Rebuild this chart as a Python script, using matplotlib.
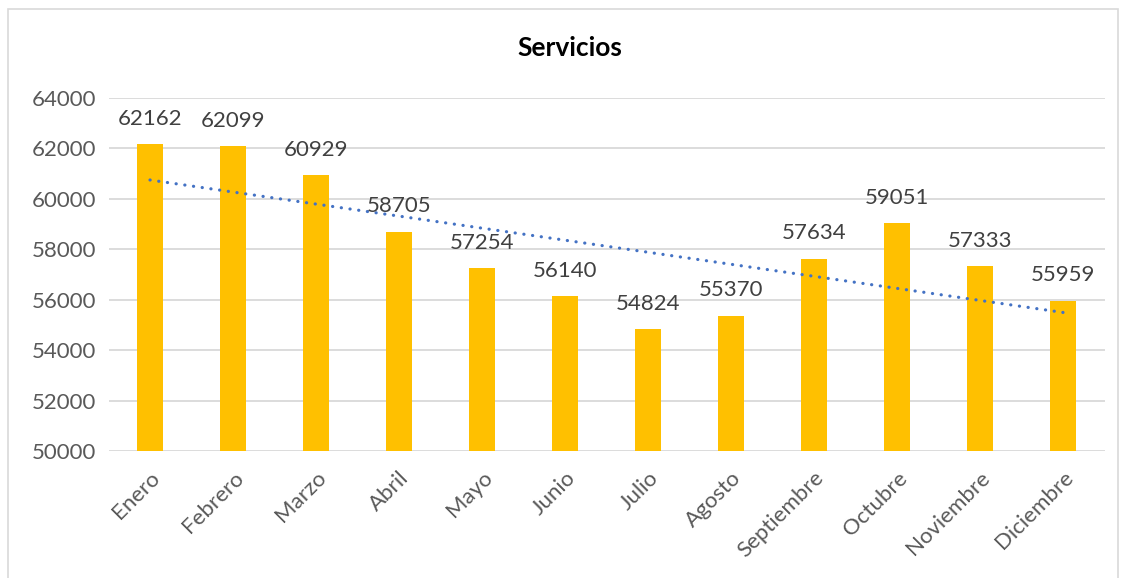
import matplotlib.pyplot as plt
import numpy as np
from matplotlib.patches import Rectangle

meses = ["Enero", "Febrero", "Marzo", "Abril", "Mayo", "Junio", "Julio",
         "Agosto", "Septiembre", "Octubre", "Noviembre", "Diciembre"]
servicios = [62162, 62099, 60929, 58705, 57254, 56140, 54824,
             55370, 57634, 59051, 57333, 55959]
yticks = [50000, 52000, 54000, 56000, 58000, 60000, 62000, 64000]

plt.rcParams['font.family'] = ['Lato', 'DejaVu Sans']

fig = plt.figure(figsize=(11.25, 5.78), dpi=100)
ax = fig.add_axes([108.5 / 1125, 1 - 451 / 578, 996 / 1125, 353 / 578])

x = np.arange(len(meses))
ax.bar(x, servicios, width=0.31, color="#FFC000", zorder=2)

# linea de tendencia (lineal, como en Excel)
a, b = np.polyfit(x, servicios, 1)
ax.plot(x, a * x + b, color="#4472C4", linestyle=(0, (0.05, 2.7)),
        linewidth=2.3, dash_capstyle="round", zorder=3)

for xi, v in zip(x, servicios):
    ax.annotate(str(v), (xi, v), xytext=(0, 11), textcoords="offset points",
                ha="center", va="bottom", fontsize=16, color="#404040")

ax.set_xlim(-0.5, len(meses) - 0.5)
ax.set_ylim(50000, 64000)
ax.set_yticks(yticks)
ax.set_yticklabels([str(t) for t in yticks], fontsize=16, color="#595959")
ax.set_xticks(x)
ax.set_xticklabels(meses, rotation=45, ha="right", va="top",
                   rotation_mode="anchor", fontsize=16, color="#595959")
ax.tick_params(length=0, pad=9)
ax.tick_params(axis="x", pad=12)
ax.grid(axis="y", color="#D9D9D9", linewidth=1.3, zorder=0)
for s in ax.spines.values():
    s.set_visible(False)

fig.text(570 / 1125, 1 - 48 / 578, "Servicios", ha="center", va="center",
         fontsize=19, fontweight="bold", color="black")

fig.patches.append(Rectangle((8 / 1125, -0.05), 1110 / 1125, 1.05 - 9 / 578,
                             transform=fig.transFigure, fill=False,
                             edgecolor="#D9D9D9", linewidth=1.2))

fig.savefig("out.png", dpi=100)
